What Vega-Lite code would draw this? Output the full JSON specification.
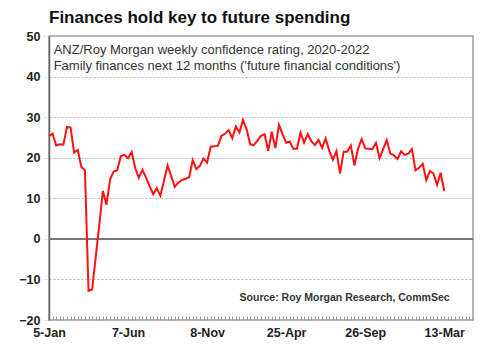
{
  "$schema": "https://vega.github.io/schema/vega-lite/v6.json",
  "width": 424,
  "height": 284,
  "autosize": {"type": "none"},
  "padding": {"left": 49, "top": 36, "right": 22, "bottom": 31},
  "background": "white",
  "title": {"text": "Finances hold key to future spending", "anchor": "start", "frame": "group", "font": "Liberation Sans", "fontSize": 17, "fontWeight": "bold", "color": "#111111", "offset": 3},
  "config": {
    "view": {"stroke": "#9a9a9a", "strokeWidth": 1.5},
    "font": "Liberation Sans"
  },
  "data": {"values": [
    {"i":0,"v":25.4},{"i":1,"v":25.9},{"i":2,"v":23.0},{"i":3,"v":23.3},{"i":4,"v":23.2},{"i":5,"v":27.6},{"i":6,"v":27.4},{"i":7,"v":21.3},{"i":8,"v":21.9},{"i":9,"v":17.7},
    {"i":10,"v":16.9},{"i":11,"v":-12.8},{"i":12,"v":-12.5},{"i":13,"v":-4.5},{"i":14,"v":3.5},{"i":15,"v":11.8},{"i":16,"v":8.4},{"i":17,"v":14.7},{"i":18,"v":16.6},{"i":19,"v":16.9},
    {"i":20,"v":20.4},{"i":21,"v":20.7},{"i":22,"v":19.9},{"i":23,"v":21.4},{"i":24,"v":17.4},{"i":25,"v":15.1},{"i":26,"v":17.0},{"i":27,"v":15.1},{"i":28,"v":13.0},{"i":29,"v":11.0},
    {"i":30,"v":12.5},{"i":31,"v":10.6},{"i":32,"v":14.3},{"i":33,"v":18.1},{"i":34,"v":15.5},{"i":35,"v":12.8},{"i":36,"v":13.9},{"i":37,"v":14.5},{"i":38,"v":14.8},{"i":39,"v":15.2},
    {"i":40,"v":19.4},{"i":41,"v":17.2},{"i":42,"v":18.0},{"i":43,"v":19.8},{"i":44,"v":18.8},{"i":45,"v":22.7},{"i":46,"v":22.8},{"i":47,"v":22.9},{"i":48,"v":25.4},{"i":49,"v":25.9},
    {"i":50,"v":26.8},{"i":51,"v":24.8},{"i":52,"v":27.7},{"i":53,"v":26.2},{"i":54,"v":29.3},{"i":55,"v":27.0},{"i":56,"v":23.3},{"i":57,"v":23.1},{"i":58,"v":24.2},{"i":59,"v":25.4},
    {"i":60,"v":25.8},{"i":61,"v":21.7},{"i":62,"v":26.4},{"i":63,"v":22.4},{"i":64,"v":28.1},{"i":65,"v":25.8},{"i":66,"v":23.7},{"i":67,"v":24.0},{"i":68,"v":22.2},{"i":69,"v":22.2},
    {"i":70,"v":26.2},{"i":71,"v":23.7},{"i":72,"v":25.8},{"i":73,"v":24.1},{"i":74,"v":23.1},{"i":75,"v":24.4},{"i":76,"v":22.4},{"i":77,"v":24.7},{"i":78,"v":21.7},{"i":79,"v":19.5},
    {"i":80,"v":21.6},{"i":81,"v":16.1},{"i":82,"v":21.5},{"i":83,"v":21.5},{"i":84,"v":23.0},{"i":85,"v":18.1},{"i":86,"v":22.2},{"i":87,"v":24.6},{"i":88,"v":22.3},{"i":89,"v":22.2},
    {"i":90,"v":22.1},{"i":91,"v":23.7},{"i":92,"v":19.9},{"i":93,"v":22.1},{"i":94,"v":24.3},{"i":95,"v":21.0},{"i":96,"v":20.6},{"i":97,"v":19.7},{"i":98,"v":21.6},{"i":99,"v":20.7},
    {"i":100,"v":21.0},{"i":101,"v":22.1},{"i":102,"v":16.9},{"i":103,"v":17.5},{"i":104,"v":18.5},{"i":105,"v":14.5},{"i":106,"v":16.7},{"i":107,"v":16.1},{"i":108,"v":13.3},{"i":109,"v":16.3},
    {"i":110,"v":11.8}
  ]},
  "encoding": {
    "x": {"field": "i", "type": "quantitative", "scale": {"domain": [0, 118], "nice": false, "zero": false},
      "axis": {"title": null, "grid": false, "domain": false, "offset": -4,
        "values": [0,1,2,3,4,5,6,7,8,9,10,11,12,13,14,15,16,17,18,19,20,21,22,23,24,25,26,27,28,29,30,31,32,33,34,35,36,37,38,39,40,41,42,43,44,45,46,47,48,49,50,51,52,53,54,55,56,57,58,59,60,61,62,63,64,65,66,67,68,69,70,71,72,73,74,75,76,77,78,79,80,81,82,83,84,85,86,87,88,89,90,91,92,93,94,95,96,97,98,99,100,101,102,103,104,105,106,107,108,109,110,111,112,113,114,115,116,117,118],
        "labelExpr": "datum.value == 0 ? '5-Jan' : datum.value == 22 ? '7-Jun' : datum.value == 44 ? '8-Nov' : datum.value == 66 ? '25-Apr' : datum.value == 88 ? '26-Sep' : datum.value == 110 ? '13-Mar' : ''",
        "labelOverlap": false, "labelFlush": false, "labelFont": "Liberation Sans", "labelFontSize": 12.5, "labelFontWeight": "bold", "labelColor": "#222222",
        "labelPadding": 6, "tickSize": 4, "tickColor": "#999999", "tickWidth": 1}
    },
    "y": {"field": "v", "type": "quantitative", "scale": {"domain": [-20, 50], "nice": false, "zero": false},
      "axis": {"title": null, "values": [-20,-10,0,10,20,30,40,50], "grid": true, "gridColor": "#b5b5b5", "gridDash": [2,2], "gridWidth": 1,
        "labelFont": "Liberation Sans", "labelFontSize": 12.5, "labelFontWeight": "bold", "labelColor": "#222222", "labelPadding": 4,
        "tickSize": 5, "tickColor": "#b5b5b5", "tickDash": [2,2], "domainColor": "#666666", "domainWidth": 1.5}
    }
  },
  "layer": [
    {"mark": {"type": "rule", "color": "#777777", "strokeWidth": 1.5}, "encoding": {"y": {"datum": 0}, "x": null}},
    {"mark": {"type": "line", "color": "#ff1111", "strokeWidth": 2}},
    {"transform": [{"filter": "datum.i == 0"}],
      "mark": {"type": "text", "text": ["ANZ/Roy Morgan weekly confidence rating, 2020-2022", "Family finances next 12 months ('future financial conditions')"], "align": "left", "baseline": "middle", "font": "Liberation Sans", "fontSize": 13, "lineHeight": 16, "color": "#333333"},
      "encoding": {"x": {"datum": 1.3}, "y": {"datum": 46.5}}},
    {"transform": [{"filter": "datum.i == 0"}],
      "mark": {"type": "text", "text": "Source: Roy Morgan Research, CommSec", "align": "right", "baseline": "middle", "font": "Liberation Sans", "fontSize": 10.5, "fontWeight": "bold", "color": "#333333"},
      "encoding": {"x": {"datum": 111.5}, "y": {"datum": -14.5}}}
  ]
}
